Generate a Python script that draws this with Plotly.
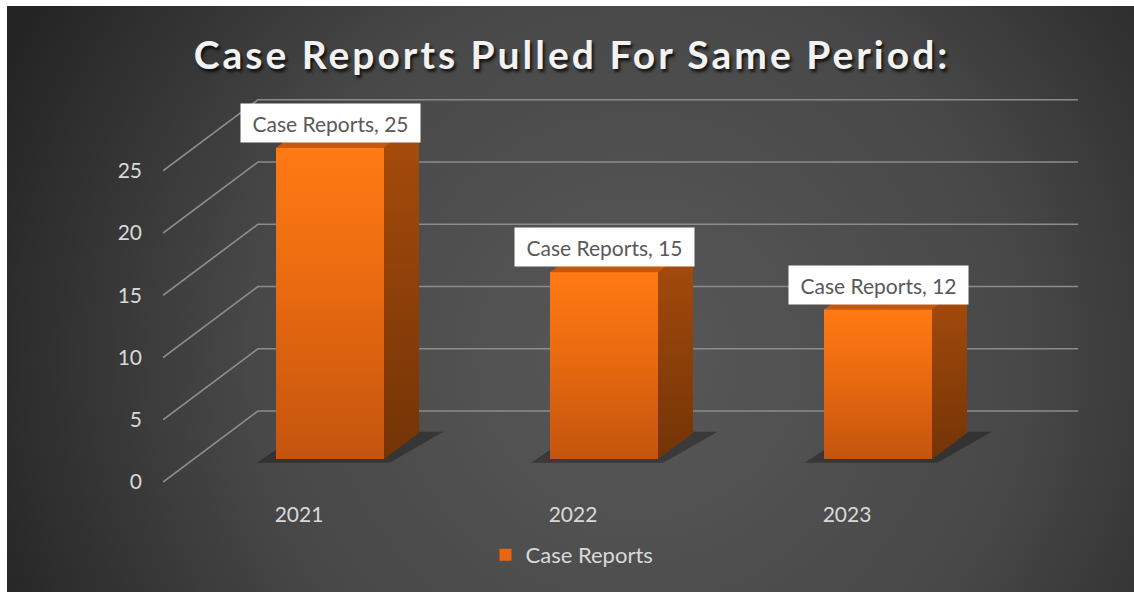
import base64
import plotly.graph_objects as go

# ---------------- data ----------------
categories = ["2021", "2022", "2023"]
values = [25, 15, 12]
series_name = "Case Reports"
y_ticks = [0, 5, 10, 15, 20, 25]
title_text = "Case Reports Pulled For Same Period:"

# ---------------- layout constants (pixels) ----------------
W, H = 1134, 592
M_L, M_R, M_T, M_B = 163, 56, 90, 102
PX_X = 274.0          # px per category step
PX_Y = 12.45          # px per value unit
X0_PX = 330.0         # px position of first bar centre (bar plane)
Y0_PX = 459.0         # px position of value 0 (bar plane)

x_range = [(M_L - X0_PX) / PX_X, (W - M_R - X0_PX) / PX_X]
y_range = [-(H - M_B - Y0_PX) / PX_Y, (Y0_PX - M_T) / PX_Y]

# depth offsets relative to the bar plane
dxf, dyf = -31 / PX_X, -23 / PX_Y      # front plane
dxb, dyb = 64 / PX_X, 48 / PX_Y        # back wall
bw = 108 / PX_X                         # bar width
ddx, ddy = 35 / PX_X, 26 / PX_Y         # bar depth

FONT = "Lato"
TXT = "#d9d9d9"

fig = go.Figure()

# ---------------- gridlines (side wall + back wall) ----------------
xl_f = x_range[0]
xl_b = x_range[0] + (dxb - dxf)
xr = x_range[1]
gx, gy = [], []
for v in y_ticks:
    gx += [xl_f, xl_b, xr, None]
    gy += [v + dyf, v + dyb, v + dyb, None]
fig.add_trace(go.Scatter(x=gx, y=gy, mode="lines",
                         line=dict(color="#8c8c8c", width=1.7),
                         hoverinfo="skip", showlegend=False))

xs = list(range(len(categories)))

# ---------------- data series (front faces, carries the legend) ----------------
fig.add_trace(go.Bar(x=xs, y=values, width=bw, name=series_name,
                     marker=dict(color="#e8660f", line=dict(width=0)),
                     hoverinfo="skip", showlegend=True))

# ---------------- shadows ----------------
for c, v in zip(xs, values):
    px = [c - bw / 2 - 0.07, c + bw / 2 + 0.02, c + bw / 2 + ddx + 0.09, c - bw / 2 + ddx - 0.03, None]
    py = [-0.3, -0.3, ddy + 0.1, ddy + 0.1, None]
    fig.add_trace(go.Scatter(x=px, y=py, mode="lines", fill="toself",
                             fillcolor="rgba(0,0,0,0.3)", line=dict(width=0),
                             hoverinfo="skip", showlegend=False))

# ---------------- side + top + front faces (3-D look) ----------------
for c, v in zip(xs, values):
    sx = [c + bw / 2, c + bw / 2 + ddx, c + bw / 2 + ddx, c + bw / 2, c + bw / 2]
    sy = [0, ddy, v + ddy, v, 0]
    fig.add_trace(go.Scatter(x=sx, y=sy, mode="lines", fill="toself",
                             fillgradient=dict(type="vertical",
                                               colorscale=[[0, "#733406"], [1, "#a84c0c"]]),
                             line=dict(width=0), hoverinfo="skip", showlegend=False))
    tx = [c - bw / 2, c + bw / 2, c + bw / 2 + ddx, c - bw / 2 + ddx, c - bw / 2]
    ty = [v, v, v + ddy, v + ddy, v]
    fig.add_trace(go.Scatter(x=tx, y=ty, mode="lines", fill="toself",
                             fillcolor="#c6580e", line=dict(width=0),
                             hoverinfo="skip", showlegend=False))
    fx = [c - bw / 2, c + bw / 2, c + bw / 2, c - bw / 2, c - bw / 2]
    fy = [0, 0, v, v, 0]
    fig.add_trace(go.Scatter(x=fx, y=fy, mode="lines", fill="toself",
                             fillgradient=dict(type="vertical",
                                               colorscale=[[0, "#c4540e"], [0.55, "#e96a10"],
                                                           [1, "#ff7a14"]]),
                             line=dict(width=0), hoverinfo="skip", showlegend=False))

# dummy trace carrying the front-plane axes (tick labels)
fig.add_trace(go.Scatter(x=xs, y=[0] * len(xs), xaxis="x2", yaxis="y2", mode="none",
                         hoverinfo="skip", showlegend=False))

# ---------------- data labels ----------------
for c, v in zip(xs, values):
    fig.add_annotation(x=c, y=v, xref="x", yref="y",
                       text=f"{series_name}, {v}", showarrow=False,
                       xanchor="center", yanchor="bottom", yshift=5,
                       bgcolor="#ffffff", borderpad=6, width=167, height=26,
                       font=dict(family=FONT, size=21, color="#595959"))

# ---------------- background gradient ----------------
svg = ('<svg xmlns="http://www.w3.org/2000/svg" width="1127" height="586" '
       'viewBox="0 0 1127 586" preserveAspectRatio="none">'
       '<defs><radialGradient id="g" cx="0.56" cy="0.6" r="0.62" '
       'gradientTransform="translate(0.56,0.6) scale(1,1.9) translate(-0.56,-0.6)">'
       '<stop offset="0" stop-color="#585858"/>'
       '<stop offset="0.55" stop-color="#484848"/>'
       '<stop offset="1" stop-color="#242424"/>'
       '</radialGradient></defs>'
       '<rect width="1127" height="586" fill="url(#g)"/></svg>')
src = "data:image/svg+xml;base64," + base64.b64encode(svg.encode()).decode()
pw, ph = W - M_L - M_R, H - M_T - M_B
fig.add_layout_image(dict(source=src, xref="paper", yref="paper",
                          x=(7 - M_L) / pw, y=(H - M_B - 6) / ph,
                          sizex=(W - 7) / pw, sizey=(H - 6) / ph,
                          xanchor="left", yanchor="top", sizing="stretch",
                          layer="below"))

fig.update_layout(
    width=W, height=H,
    margin=dict(l=M_L, r=M_R, t=M_T, b=M_B, pad=0),
    paper_bgcolor="#ffffff", plot_bgcolor="rgba(0,0,0,0)",
    title=dict(text=f'<span style="letter-spacing:3px">{title_text}</span>',
               x=572 / W, xanchor="center", xref="container",
               y=1 - 55 / H, yanchor="middle", yref="container",
               font=dict(family=FONT, size=39, color="#f2f2f2", weight="bold",
                         shadow="2px 3px 3px rgba(0,0,0,0.75)")),
    xaxis=dict(range=x_range, visible=False, fixedrange=True),
    yaxis=dict(range=y_range, visible=False, fixedrange=True),
    xaxis2=dict(range=[x_range[0] - dxf, x_range[1] - dxf], overlaying="x", anchor="y2",
                side="bottom", tickvals=xs, ticktext=categories, showgrid=False,
                zeroline=False, showline=False, ticks="", ticklabelstandoff=10,
                tickfont=dict(family=FONT, size=21, color=TXT), fixedrange=True),
    yaxis2=dict(range=[y_range[0] - dyf, y_range[1] - dyf], overlaying="y", anchor="x2",
                side="left", tickvals=y_ticks, showgrid=False, zeroline=False,
                showline=False, ticks="", ticklabelstandoff=20,
                tickfont=dict(family=FONT, size=21, color=TXT), fixedrange=True),
    bargap=0,
    showlegend=True,
    legend=dict(orientation="h", x=(572 - M_L) / pw, xanchor="center",
                y=(H - M_B - 555) / ph, yanchor="middle",
                bgcolor="rgba(0,0,0,0)", font=dict(family=FONT, size=22, color=TXT),
                itemwidth=30),
)

fig.write_html("out.html", config={"displayModeBar": False},
               post_script="document.body.style.margin='0';")
